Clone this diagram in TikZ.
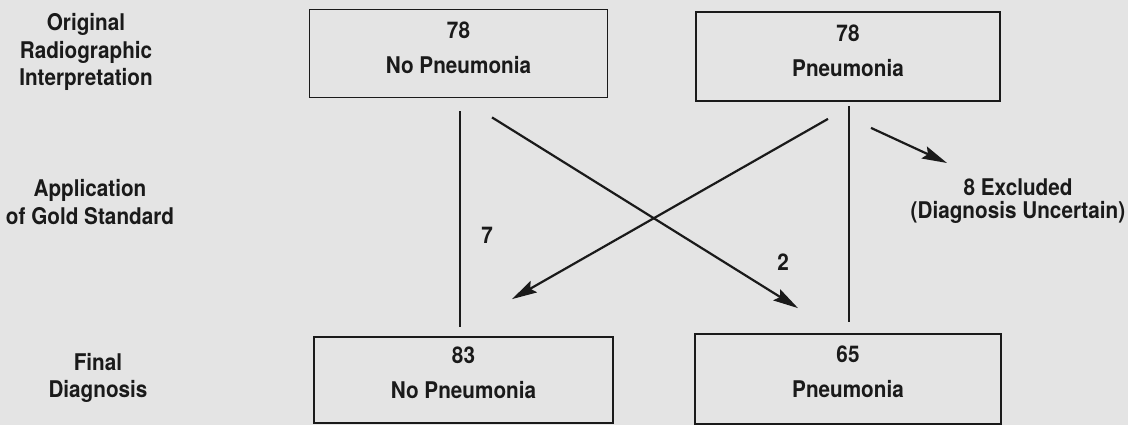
\documentclass[tikz,border=0pt]{standalone}
\usepackage{fontspec}
\setmainfont{TeX Gyre Heros}[FakeStretch=0.9]
\usetikzlibrary{arrows.meta}
\definecolor{paper}{HTML}{E4E4E4}
\definecolor{ink}{HTML}{1A1A1A}
\begin{document}
\begin{tikzpicture}[x=1pt,y=-1pt,
  every node/.style={text=ink, font=\fontsize{23}{28}\selectfont\bfseries},
  box/.style={draw=ink, line width=1.8pt, inner sep=0pt},
  boxtext/.style={align=center, font=\fontsize{23}{35}\selectfont\bfseries},
  side/.style={align=center, font=\fontsize{23}{27.5}\selectfont\bfseries},
  link/.style={draw=ink, line width=1.3pt},
  flow/.style={draw=ink, line width=2.2pt,
    -{Stealth[length=25pt,width=13pt,inset=4pt]}}]
  % page
  \fill[paper] (0,0) rectangle (1128,425);
  \useasboundingbox (0,0) rectangle (1128,425);

  % row labels
  \node[side] (lab1) at (86,52) {Original\\Radiographic\\Interpretation};
  \node[side] (lab2) at (90,202) {Application\\of Gold Standard};
  \node[side] (lab3) at (98,378) {Final\\Diagnosis};

  % boxes
  \node[box, minimum width=298pt, minimum height=88pt] (tl) at (458.5,53.5) {};
  \node[box, minimum width=304pt, minimum height=89pt] (tr) at (848,56.5) {};
  \node[box, minimum width=299pt, minimum height=86pt] (bl) at (463.5,380) {};
  \node[box, minimum width=306pt, minimum height=90pt] (br) at (848,379) {};

  \node[boxtext] (tltext) at ([yshift=6pt]tl.center) {78\\No Pneumonia};
  \node[boxtext] (trtext) at ([yshift=6pt]tr.center) {78\\Pneumonia};
  \node[boxtext] (bltext) at ([yshift=7pt]bl.center) {83\\No Pneumonia};
  \node[boxtext] (brtext) at ([yshift=7pt]br.center) {65\\Pneumonia};

  % excluded cases
  \node[align=center, font=\fontsize{23}{23}\selectfont\bfseries] (excl) at (1018,201)
    {8 Excluded\\(Diagnosis Uncertain)};

  % unchanged diagnoses
  \draw[link] ([xshift=1.5pt,yshift=-13pt]tl.south) -- ([xshift=-3.5pt,yshift=9pt]bl.north);
  \draw[link] ([xshift=1pt,yshift=-4pt]tr.south) -- ([xshift=1pt,yshift=11pt]br.north);

  % reclassified cases
  \draw[flow] ([xshift=33.5pt,yshift=-19pt]tl.south) -- ([xshift=-50pt,yshift=25pt]br.north);
  \draw[flow] ([xshift=-20pt,yshift=-17pt]tr.south) -- ([xshift=48.5pt,yshift=37pt]bl.north);
  \draw[flow] ([xshift=23pt,yshift=-26pt]tr.south) -- ([xshift=-71pt,yshift=38pt]excl.center);

  % counts
  \node (n7) at (487,235) {7};
  \node (n2) at (783,262) {2};
\end{tikzpicture}
\end{document}
